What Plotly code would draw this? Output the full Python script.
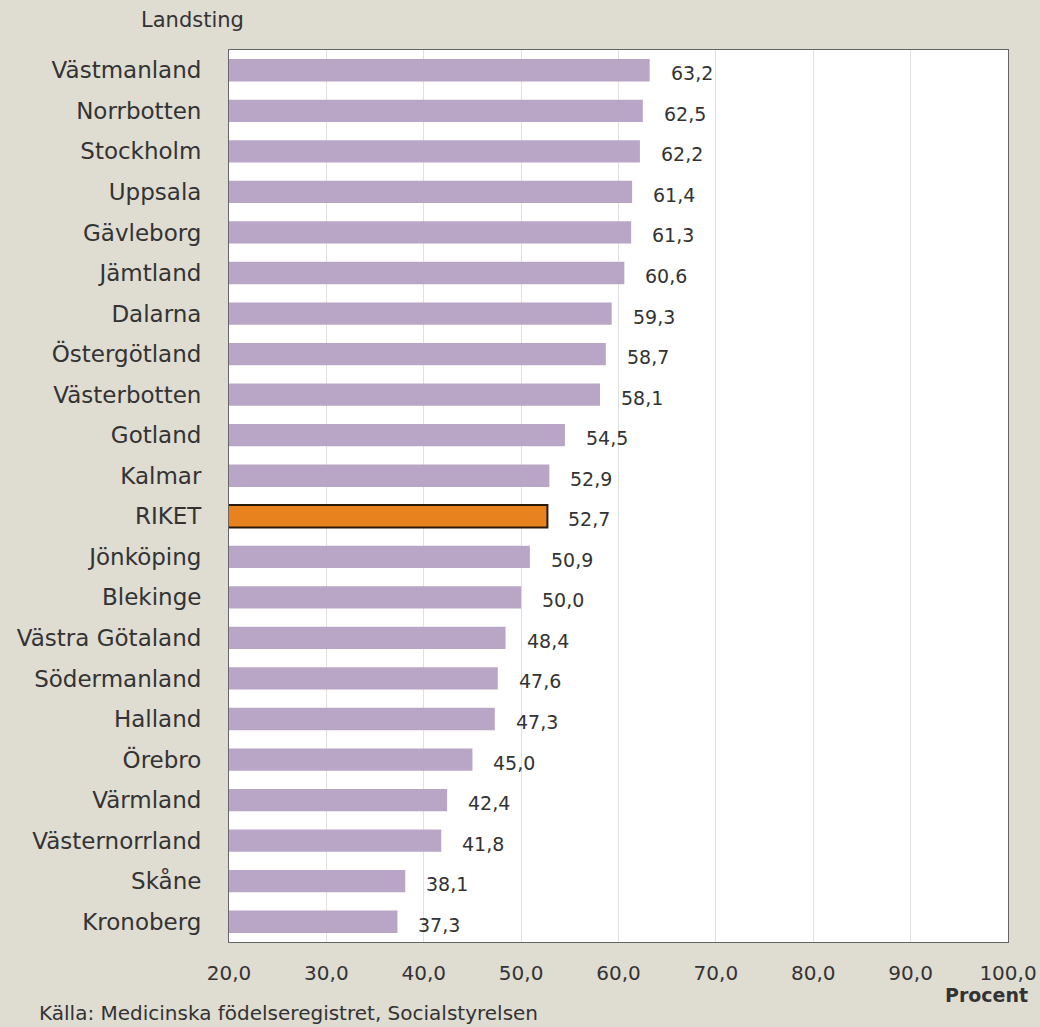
import plotly.graph_objects as go

categories = ["Västmanland", "Norrbotten", "Stockholm", "Uppsala", "Gävleborg", "Jämtland",
              "Dalarna", "Östergötland", "Västerbotten", "Gotland", "Kalmar", "RIKET",
              "Jönköping", "Blekinge", "Västra Götaland", "Södermanland", "Halland", "Örebro",
              "Värmland", "Västernorrland", "Skåne", "Kronoberg"]
values = [63.2, 62.5, 62.2, 61.4, 61.3, 60.6, 59.3, 58.7, 58.1, 54.5, 52.9, 52.7,
          50.9, 50.0, 48.4, 47.6, 47.3, 45.0, 42.4, 41.8, 38.1, 37.3]
tick_vals = [20, 30, 40, 50, 60, 70, 80, 90, 100]

FONT = "DejaVu Sans, sans-serif"
TXT = "#333333"
colors = ["#e8821e" if c == "RIKET" else "#b9a6c6" for c in categories]
line_colors = ["#2a1a0a" if c == "RIKET" else "#b9a6c6" for c in categories]
line_widths = [2 if c == "RIKET" else 0 for c in categories]

fig = go.Figure(go.Bar(
    x=values, y=categories, orientation="h", base=0,
    marker=dict(color=colors, line=dict(color=line_colors, width=line_widths)),
    width=0.55, hoverinfo="skip",
))

for c, v in zip(categories, values):
    fig.add_annotation(x=v, y=c, text=f"{v:.1f}".replace(".", ","), showarrow=False,
                       xanchor="left", xshift=19, yshift=-3,
                       font=dict(family=FONT, size=19, color=TXT))

fig.add_annotation(xref="paper", yref="paper", x=-0.047, y=1.0336, text="Landsting",
                   showarrow=False, xanchor="center", yanchor="middle",
                   font=dict(family=FONT, size=21, color=TXT))
fig.add_annotation(xref="paper", yref="paper", x=1.028, y=-0.0594, text="<b>Procent</b>",
                   showarrow=False, xanchor="right", yanchor="middle",
                   font=dict(family=FONT, size=19, color=TXT))
fig.add_annotation(xref="paper", yref="paper", x=-0.247, y=-0.0795,
                   text="Källa: Medicinska födelseregistret, Socialstyrelsen",
                   showarrow=False, xanchor="left", yanchor="middle",
                   font=dict(family=FONT, size=20, color=TXT))

fig.update_layout(
    width=1040, height=1027,
    margin=dict(l=229, r=32, t=50, b=85, autoexpand=False),
    paper_bgcolor="#dfdcd2", plot_bgcolor="white",
    separators=", ",
    showlegend=False,
    font=dict(family=FONT, size=19, color=TXT),
    xaxis=dict(range=[20, 100], tickvals=tick_vals, tickformat=".1f",
               tickfont=dict(size=20), automargin=False,
               showgrid=True, gridcolor="#e0e0e0", gridwidth=1,
               zeroline=False, showline=True, linecolor="#666666", linewidth=1, mirror=True,
               ticks="", ticklabelstandoff=13, fixedrange=True),
    yaxis=dict(autorange="reversed", showgrid=False, zeroline=False,
               tickfont=dict(size=23), automargin=False,
               showline=True, linecolor="#666666", linewidth=1, mirror=True,
               ticks="", ticklabelstandoff=22, fixedrange=True),
)

fig.write_html("out.html", post_script="document.body.style.margin='0';",
               config={"displayModeBar": False})
